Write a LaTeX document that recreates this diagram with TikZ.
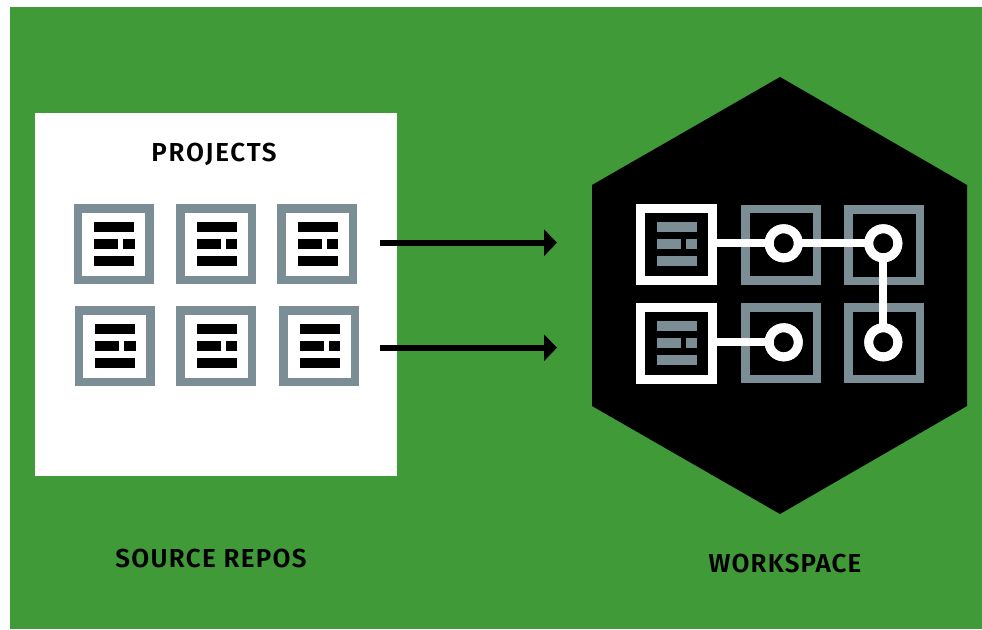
\documentclass[tikz,border=0pt]{standalone}
\usepackage{fontspec}
\setmainfont{Fira Sans}[BoldFont={Fira Sans SemiBold}]
\usetikzlibrary{arrows.meta}
\definecolor{bggreen}{HTML}{409A37}
\definecolor{slate}{HTML}{7B8D95}
\tikzset{
  x=1pt,y=-1pt,
  iconbox/.style={draw=#1,line width=8.5pt,minimum size=71.5pt,inner sep=0pt,outer sep=0pt,anchor=north west},
  hub/.style={circle,draw=white,fill=black,line width=9pt,minimum size=29pt,inner sep=0pt,outer sep=0pt},
  wire/.style={draw=white,line width=8pt},
  flow/.style={line width=6pt,-{Triangle[length=13pt,width=26pt]}},
  caption/.style={font=\bfseries\fontsize{26}{26}\selectfont,text=black,inner sep=0pt,text height=18pt,text depth=0pt}
}
\newcommand{\iconbars}[3]{%
  \fill[#3] (#1+20.7,#2+18) rectangle (#1+60.7,#2+27.7);
  \fill[#3] (#1+20.7,#2+34.7) rectangle (#1+44.7,#2+44.7);
  \fill[#3] (#1+49.7,#2+34.7) rectangle (#1+61,#2+44.7);
  \fill[#3] (#1+20.7,#2+51.7) rectangle (#1+60.7,#2+62);
}
\newcommand{\srcicon}[3]{%
  \node[iconbox=slate] (#1) at (#2+4.25,#3+4.25) {};
  \iconbars{#2}{#3}{black}
}
\begin{document}
\begin{tikzpicture}
\useasboundingbox (0,0) rectangle (982,629);
\fill[white] (0,0) rectangle (982,629);
\fill[bggreen] (10,7) rectangle (982,629);
% source panel
\fill[white] (35,113) rectangle (397,476);
\node[caption] (projects) at (214,152) {\addfontfeature{LetterSpace=6.7}PROJECTS};
\srcicon{s1}{73.5}{204}
\srcicon{s2}{176}{204}
\srcicon{s3}{277}{204}
\srcicon{s4}{74.5}{306}
\srcicon{s5}{176}{306}
\srcicon{s6}{279}{306}
% arrows
\coordinate (a1) at (380,242.7);
\coordinate (b1) at (557,242.7);
\coordinate (a2) at (380,347.7);
\coordinate (b2) at (557,347.7);
\draw[flow] (a1) -- (b1);
\draw[flow] (a2) -- (b2);
% workspace hexagon
\fill[black] (780,77) -- (967,185) -- (967,406) -- (780,514) -- (592,406) -- (592,185) -- cycle;
\node[iconbox=slate] (g1) at (745.25,209) {};
\node[iconbox=slate] (g2) at (848.5,209.5) {};
\node[iconbox=slate] (g3) at (745.25,307.5) {};
\node[iconbox=slate] (g4) at (848.5,307.5) {};
\node[iconbox=white,line width=9pt] (w1) at (640.5,208.5) {};
\node[iconbox=white,line width=9pt] (w2) at (640.5,307.5) {};
\iconbars{636}{204}{slate}
\iconbars{636}{303}{slate}
\node[hub] (c1) at (783.7,243.3) {};
\node[hub] (c2) at (883.3,243.3) {};
\node[hub] (c3) at (783.7,342.3) {};
\node[hub] (c4) at (883.3,342.3) {};
\draw[wire] (w1.east |- c1) -- (c1);
\draw[wire] (c1) -- (c2);
\draw[wire] (c2) -- (c4);
\draw[wire] (w2.east |- c3) -- (c3);
\node[hub] at (c1) {};
\node[hub] at (c2) {};
\node[hub] at (c3) {};
\node[hub] at (c4) {};
% captions
\node[caption] (repos) at (211,558) {\addfontfeature{LetterSpace=5.1}SOURCE REPOS};
\node[caption] (space) at (785,563) {\addfontfeature{LetterSpace=4.3}WORKSPACE};
\end{tikzpicture}
\end{document}
